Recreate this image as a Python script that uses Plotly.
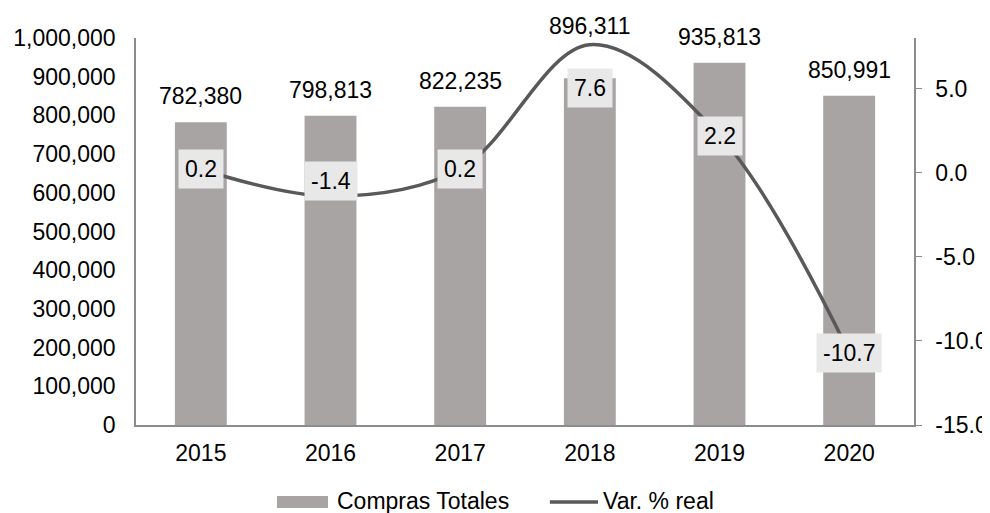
import plotly.graph_objects as go

years = ["2015", "2016", "2017", "2018", "2019", "2020"]
compras = [782380, 798813, 822235, 896311, 935813, 850991]
var_real = [0.2, -1.4, 0.2, 7.6, 2.2, -10.7]
right_ticks = [-15, -10, -5, 0, 5]

bar_label_shift = [26, 26, 26, 52, 26, 26]
line_label_shift = [0, 15, 0, -43, 0, 0]

FONT = "Liberation Sans, Arial, sans-serif"
FS = 23
BAR_C = "#a8a4a3"
LINE_C = "#595959"
AX_C = "#8c8c8c"

fig = go.Figure()
fig.add_trace(go.Bar(x=years, y=compras, name="Compras Totales",
                     marker=dict(color=BAR_C, line=dict(width=0)),
                     width=0.4, showlegend=False, yaxis="y"))
fig.add_trace(go.Scatter(x=years, y=var_real, name="Var. % real", mode="lines",
                         line=dict(color=LINE_C, width=3.5, shape="spline", smoothing=1),
                         showlegend=False, yaxis="y2"))

ann = []
for i, (v, s) in enumerate(zip(compras, bar_label_shift)):
    ann.append(dict(x=i, y=v, xref="x", yref="y", text=f"{v:,}", showarrow=False,
                    yshift=s, font=dict(family=FONT, size=FS, color="#000")))
for i, (v, s) in enumerate(zip(var_real, line_label_shift)):
    ann.append(dict(x=i, y=v, xref="x", yref="y2", text=f"{v:.1f}", showarrow=False,
                    yshift=s, bgcolor="#e8e8e8", borderpad=6,
                    font=dict(family=FONT, size=FS, color="#000")))

# custom legend
ann.append(dict(x=0.2558, y=-0.196, xref="paper", yref="paper", xanchor="left",
                yanchor="middle", text="Compras Totales", showarrow=False,
                font=dict(family=FONT, size=FS, color="#000")))
ann.append(dict(x=0.5977, y=-0.196, xref="paper", yref="paper", xanchor="left",
                yanchor="middle", text="Var. % real", showarrow=False,
                font=dict(family=FONT, size=FS, color="#000")))
shapes = [
    dict(type="rect", xref="paper", yref="paper", x0=0.1812, x1=0.2468,
         y0=-0.2145, y1=-0.1835, fillcolor=BAR_C, line=dict(width=0)),
    dict(type="line", xref="paper", yref="paper", x0=0.532, x1=0.5938,
         y0=-0.199, y1=-0.199, line=dict(color=LINE_C, width=3.5)),
]

fig.update_layout(
    width=982, height=505,
    margin=dict(l=128, r=76, t=30, b=88, autoexpand=False),
    paper_bgcolor="white", plot_bgcolor="white",
    font=dict(family=FONT, size=FS, color="#000"),
    xaxis=dict(type="category", range=[-0.5, 5.5], autorange=False, automargin=False,
               showline=True, linecolor=AX_C, linewidth=1.5,
               ticks="", showgrid=False, ticklabelposition="outside", ticklabelstandoff=7,
               tickfont=dict(family=FONT, size=FS, color="#000")),
    yaxis=dict(range=[0, 1000000], dtick=100000, tickformat=",", showline=True,
               automargin=False, ticklabelposition="outside",
               linecolor=AX_C, linewidth=1.5, ticks="", showgrid=False, zeroline=False,
               ticklabelstandoff=14,
               tickfont=dict(family=FONT, size=FS, color="#000")),
    yaxis2=dict(range=[-15, 8], tickvals=right_ticks, automargin=False,
                ticktext=[f"{t:.1f}" for t in right_ticks], overlaying="y",
                side="right", showline=True, linecolor=AX_C, linewidth=1.5,
                ticks="outside", ticklen=6, tickcolor=AX_C, showgrid=False, zeroline=False,
                ticklabelposition="outside", ticklabelstandoff=9,
                tickfont=dict(family=FONT, size=FS, color="#000")),
    annotations=ann, shapes=shapes,
)

fig.write_html("out.html")
